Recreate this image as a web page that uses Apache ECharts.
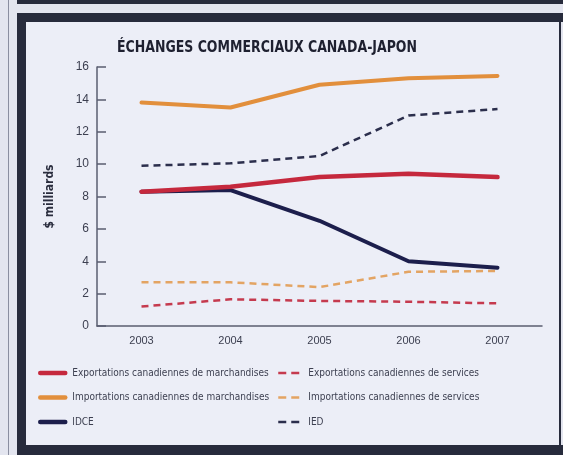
<!DOCTYPE html>
<html>
<head>
<meta charset="utf-8">
<script src="https://cdn.jsdelivr.net/npm/echarts@6/dist/echarts.min.js"></script>
<style>
  html, body { margin: 0; padding: 0; }
  body { width: 563px; height: 455px; background: #e3e5ef; position: relative; overflow: hidden; }
  .rule { position: absolute; background: #8a8ea0; left: 8px; top: 0; width: 1px; height: 455px; }
  .band { position: absolute; background: #272b3c; }
  #chart { position: absolute; left: 0; top: 0; width: 563px; height: 455px; }
</style>
</head>
<body>
<div class="rule"></div>
<div class="band" style="left:17px; top:0; width:546px; height:4px;"></div>
<div class="band" style="left:17px; top:13px; width:546px; height:9px;"></div>
<div class="band" style="left:17px; top:13px; width:9px; height:442px;"></div>
<div class="band" style="left:559px; top:13px; width:2px; height:442px;"></div>
<div class="band" style="left:17px; top:445px; width:546px; height:10px;"></div>
<div style="position:absolute; left:26px; top:22px; width:533px; height:423px; background:#eceef7;"></div>
<div id="chart"></div>
<script>
// Canada-Japan trade, billions of dollars
const years = ['2003', '2004', '2005', '2006', '2007'];
const exportsGoods    = [8.3, 8.6, 9.2, 9.4, 9.2];
const importsGoods    = [13.8, 13.5, 14.9, 15.3, 15.45];
const cdia            = [8.3, 8.4, 6.5, 4.0, 3.6];
const exportsServices = [1.2, 1.65, 1.55, 1.5, 1.4];
const importsServices = [2.7, 2.7, 2.4, 3.35, 3.4];
const fdi             = [9.9, 10.05, 10.5, 13.0, 13.4];
const yTicks = [0, 2, 4, 6, 8, 10, 12, 14, 16];

const TITLE = 'ÉCHANGES COMMERCIAUX CANADA-JAPON';
const narrow = '"DejaVu Sans Condensed", "Liberation Sans", sans-serif';

const RED = '#c5283d', ORANGE = '#e28f3c', NAVY = '#1c1e4c';

// squeeze the heading into a condensed look of a fixed width
const titleFont = 'bold 15px "DejaVu Sans Condensed", sans-serif';
const ctx = document.createElement('canvas').getContext('2d');
ctx.font = titleFont;
const titleScale = 300 / ctx.measureText(TITLE).width;

function solid(name, data, color, width) {
  return { name, type: 'line', data, symbol: 'none', silent: true,
    lineStyle: { color, width, cap: 'round', join: 'round' }, itemStyle: { color } };
}
function dashed(name, data, color) {
  return { name, type: 'line', data, symbol: 'none', silent: true,
    lineStyle: { color, width: 2.5, type: [7, 5] }, itemStyle: { color } };
}

const legendText = { fontFamily: narrow, fontSize: 10, color: '#3c3f50', padding: [0, 0, 0, 2] };
const legendBase = { orient: 'vertical', top: 363, itemHeight: 12, itemGap: 14.5,
  textStyle: legendText, selectedMode: false, itemStyle: { opacity: 0 } };

const chart = echarts.init(document.getElementById('chart'), null, { renderer: 'canvas' });
chart.setOption({
  backgroundColor: 'transparent',
  animation: false,
  graphic: [{
    type: 'text', x: 267, y: 48, scaleX: titleScale, silent: true,
    style: { text: TITLE, font: titleFont, fill: '#1e2030', align: 'center', verticalAlign: 'middle' }
  }],
  grid: { left: 97, right: 21, top: 67, bottom: 129 },
  xAxis: {
    type: 'category', data: years, boundaryGap: true,
    axisLine: { lineStyle: { color: '#5a5e70', width: 1.5 } },
    axisTick: { inside: true, length: 6, alignWithLabel: true, lineStyle: { color: '#5a5e70', width: 1.5 } },
    axisLabel: { margin: 9, fontFamily: '"Liberation Sans", sans-serif', fontSize: 11, color: '#3c3f50' }
  },
  yAxis: {
    type: 'value', min: yTicks[0], max: yTicks[yTicks.length - 1], interval: 2,
    name: '$ milliards', nameLocation: 'middle', nameGap: 41, nameRotate: 90,
    nameTextStyle: { fontFamily: narrow, fontWeight: 'bold', fontSize: 12, color: '#2a2d3e' },
    splitLine: { show: false },
    axisLine: { show: true, lineStyle: { color: '#5a5e70', width: 1.5 } },
    axisTick: { show: true, inside: true, length: 9, lineStyle: { color: '#5a5e70', width: 1.5 } },
    axisLabel: { margin: 8, fontFamily: '"Liberation Sans", sans-serif', fontSize: 12, color: '#3c3f50' }
  },
  legend: [
    Object.assign({}, legendBase, { left: 33, itemWidth: 25, lineStyle: { width: 4.5 },
      data: ['Exportations canadiennes de marchandises', 'Importations canadiennes de marchandises', 'IDCE'] }),
    Object.assign({}, legendBase, { left: 272, itemWidth: 23, lineStyle: { width: 2.5, type: [8, 5] },
      data: ['Exportations canadiennes de services', 'Importations canadiennes de services', 'IED'] })
  ],
  series: [
    dashed('IED', fdi, '#2b2e4c'),
    dashed('Importations canadiennes de services', importsServices, '#e3a463'),
    dashed('Exportations canadiennes de services', exportsServices, '#c53a4e'),
    solid('Importations canadiennes de marchandises', importsGoods, ORANGE, 4),
    solid('IDCE', cdia, NAVY, 4),
    solid('Exportations canadiennes de marchandises', exportsGoods, RED, 4.5)
  ]
});
</script>
</body>
</html>
